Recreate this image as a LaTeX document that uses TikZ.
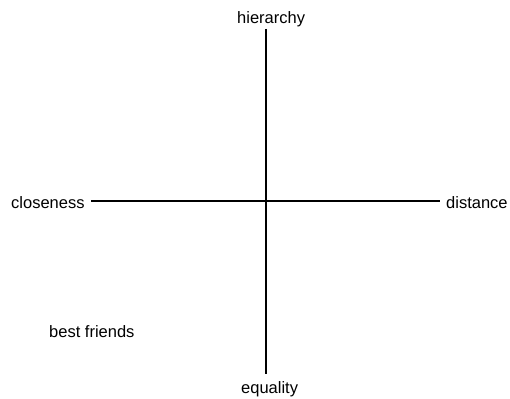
\documentclass[tikz,border=0pt]{standalone}
\usepackage{fontspec}
\setmainfont{Liberation Sans}
\usetikzlibrary{positioning}

\begin{document}
\begin{tikzpicture}[
  x=1pt, y=-1pt,
  font=\fontsize{16.5}{19}\selectfont,
  pole/.style ={anchor=base west, inner sep=0pt, text=black},
  axis/.style ={line width=2pt, draw=black},
]
\useasboundingbox (0,0) rectangle (510,398);

% ===== axis end labels =====
\node[pole] (hier)  at (237,24)  {hierarchy};
\node[pole] (equal) at (241,393) {equality};
\node[pole] (close) at (11,208)  {closeness};
\node[pole] (dist)  at (446,208) {distance};

% ===== example =====
\node[pole] (best) at (49,337) {best friends};

% ===== axes =====
\coordinate (vtop) at (266,29);
\coordinate (vbot) at (266,374);
\coordinate (hl)   at (91,201);
\coordinate (hr)   at (440,201);
\draw[axis] (vtop) -- (vbot);
\draw[axis] (hl) -- (hr);

\end{tikzpicture}
\end{document}
